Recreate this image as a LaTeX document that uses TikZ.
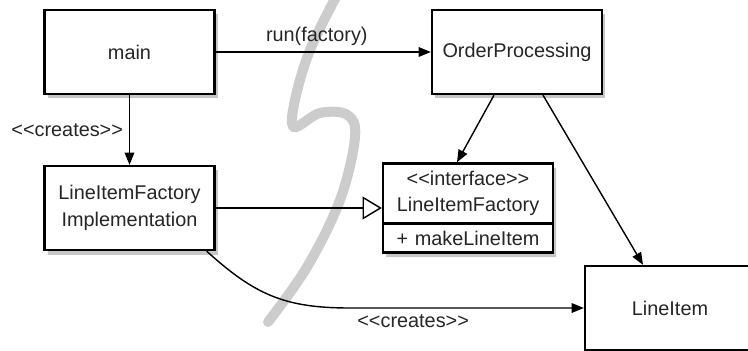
\documentclass[tikz,border=0pt]{standalone}
\usepackage{fontspec}
\setmainfont{Liberation Sans}
\usetikzlibrary{arrows.meta}
\usetikzlibrary{shapes.multipart}
\usetikzlibrary{shadows}
\newcommand{\stereo}[1]{<\kern0pt<#1>\kern0pt>}

\begin{document}
\begin{tikzpicture}[->, >={Triangle[length=7pt, width=5.5pt]}, line width=0.8pt,
  font=\fontsize{11.3}{15.3}\selectfont, text=black!85,
  box/.style={draw, line width=1.3pt, fill=white, minimum width=3.4cm, minimum height=1.68cm, align=center,
    drop shadow={shadow xshift=0.06cm, shadow yshift=-0.09cm, opacity=0.45}},
  squiggle/.style={-, line width=0.2cm, line cap=round, draw=black!20}]

\clip (0, 0) rectangle (14.96, -7.02);

% Background stroke
\draw[squiggle] plot[smooth, tension=0.6] coordinates {(6.74, 0.1) (6.20, -1.00) (5.90, -2.00) (5.88, -2.54) (6.40, -2.26) (6.95, -2.30) (7.10, -2.75) (6.80, -4.00) (6.14, -5.34) (5.36, -6.44)};

% Nodes as boxes
\node (main) [box] at (2.59, -1.04) {main};
\node (op) [box] at (10.34, -1.04) {OrderProcessing};
\node (lifi) [box] at (2.59, -4.16) {LineItemFactory\\Implementation};
\node (iface) [box, rectangle split, rectangle split parts=2, rectangle split part align={center}, minimum height=0pt,
  inner xsep=0pt, inner ysep=3.5pt, text width=3.4cm] at (9.36, -4.16)
  {\stereo{interface}\\LineItemFactory \nodepart{two} + makeLineItem};
\node (li) [box] at (13.4, -6.16) {LineItem};

% Edges
\draw (main) -- (op) node[pos=0.47, above] {run(factory)};
\draw (main) -- (lifi) node[midway, left] {\stereo{creates}};
\draw ([xshift=-0.46cm]op.south) -- ([xshift=-0.22cm]iface.north);
\draw ([xshift=0.52cm]op.south) -- ([xshift=-0.54cm]li.north);
\draw[-{Triangle[open, length=11pt, width=13pt, fill=white]}] (lifi) -- (iface);
\draw ([xshift=-0.18cm]lifi.south east) .. controls (5.1, -5.9) and (5.7, -6.16) .. (7.0, -6.16)
  -- (li.west) node[pos=0.27, below] {\stereo{creates}};

\end{tikzpicture}
\end{document}
